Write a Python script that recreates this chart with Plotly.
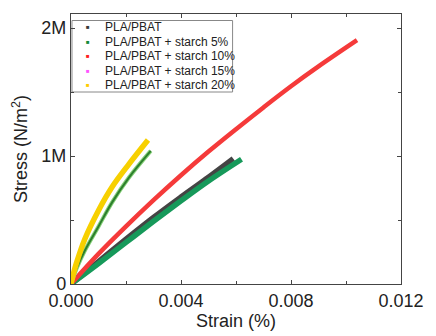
import plotly.graph_objects as go

# ---- data (strain, stress in N/m^2) ----
series_names = ["PLA/PBAT", "PLA/PBAT + starch 5%", "PLA/PBAT + starch 10%",
                "PLA/PBAT + starch 15%", "PLA/PBAT + starch 20%"]
legend_colors = ["#3a3a3a", "#138a3a", "#ff2020", "#ff55ff", "#ffcc00"]

pla_strain = [0, 0.0010, 0.0020, 0.0030, 0.0040, 0.0050, 0.0059]
pla_stress = [0, 0.175e6, 0.35e6, 0.52e6, 0.68e6, 0.835e6, 0.98e6]

s5_strain = [0, 0.0010, 0.0020, 0.0030, 0.0040, 0.0050, 0.0062]
s5_stress = [0, 0.16e6, 0.325e6, 0.49e6, 0.65e6, 0.805e6, 0.975e6]

s10_strain = [0, 0.0010, 0.0020, 0.0030, 0.0040, 0.0050, 0.0060,
              0.0070, 0.0080, 0.0090, 0.0104]
s10_stress = [0, 0.235e6, 0.45e6, 0.655e6, 0.85e6, 1.035e6, 1.21e6,
              1.38e6, 1.545e6, 1.70e6, 1.905e6]

s15_strain = [0, 0.0002, 0.0005, 0.0010, 0.0015, 0.0021, 0.0029]
s15_stress = [0, 0.12e6, 0.26e6, 0.45e6, 0.64e6, 0.83e6, 1.04e6]

s20_strain = [0, 0.0001, 0.0002, 0.0005, 0.0010, 0.0015, 0.0021, 0.0028]
s20_stress = [0, 0.09e6, 0.165e6, 0.35e6, 0.575e6, 0.76e6, 0.935e6, 1.125e6]

x_ticks = [0, 0.004, 0.008, 0.012]
y_ticks = [0, 1e6, 2e6]
y_ticktext = ["0", "1M", "2M"]

FONT = "Liberation Sans, Arial, sans-serif"

fig = go.Figure()
fig.add_trace(go.Scatter(x=pla_strain, y=pla_stress, mode="lines",
                         line=dict(color="#444444", width=5.5, shape="spline"), showlegend=False))
fig.add_trace(go.Scatter(x=s5_strain, y=s5_stress, mode="lines",
                         line=dict(color="#16995a", width=5.5, shape="spline"), showlegend=False))
fig.add_trace(go.Scatter(x=s10_strain, y=s10_stress, mode="lines",
                         line=dict(color="#f53a3a", width=4.5, shape="spline"), showlegend=False))
fig.add_trace(go.Scatter(x=s15_strain, y=s15_stress, mode="lines",
                         line=dict(color="#86d078", width=4, shape="spline"), showlegend=False))
fig.add_trace(go.Scatter(x=s15_strain, y=s15_stress, mode="lines",
                         line=dict(color="#2d7f2d", width=2, shape="spline"), showlegend=False))
fig.add_trace(go.Scatter(x=s20_strain, y=s20_stress, mode="lines",
                         line=dict(color="#f7d000", width=5.5, shape="spline"), showlegend=False))

# plot area geometry (pixels) for the hand-made legend
L, R, T, B = 71, 27, 14, 52
W, H = 436 - L - R, 336 - T - B

def px(x):
    return (x - L) / W

def py(y):
    return 1 - (y - T) / H

annotations = []
for i, (name, col) in enumerate(zip(series_names, legend_colors)):
    yy = 27 + 14.6 * i
    annotations.append(dict(x=px(88), y=py(yy), xref="paper", yref="paper",
                            text="■", showarrow=False, xanchor="center", yanchor="middle",
                            font=dict(size=6, color=col, family=FONT)))
    annotations.append(dict(x=px(104), y=py(yy), xref="paper", yref="paper",
                            text=name, showarrow=False, xanchor="left", yanchor="middle",
                            font=dict(size=12, color="#222222", family=FONT)))

shapes = [dict(type="rect", xref="paper", yref="paper",
               x0=px(72), x1=px(236.5), y0=py(92), y1=py(20.5),
               line=dict(color="#888888", width=1), fillcolor="white", layer="below")]

axis_common = dict(showgrid=False, zeroline=False, showline=True, linecolor="#444444",
                   linewidth=1.2, mirror="allticks", ticks="inside", ticklen=4,
                   tickcolor="#444444", tickfont=dict(size=18, color="#222222", family=FONT))

fig.update_layout(
    width=436, height=336,
    margin=dict(l=L, r=R, t=T, b=B),
    paper_bgcolor="white", plot_bgcolor="white",
    showlegend=False,
    annotations=annotations, shapes=shapes,
    xaxis=dict(range=[0, 0.012], tickvals=x_ticks, tickformat=".3f",
               minor=dict(dtick=0.002, ticks="inside", ticklen=3, tickcolor="#444444"),
               title=dict(text="Strain (%)", font=dict(size=18, color="#222222", family=FONT),
                          standoff=0),
               **axis_common),
    yaxis=dict(range=[0, 2.11e6], tickvals=y_ticks, ticktext=y_ticktext,
               minor=dict(tickvals=[0.5e6, 1.5e6], ticks="inside", ticklen=3, tickcolor="#444444"),
               title=dict(text="Stress (N/m<sup>2</sup>)", font=dict(size=18, color="#222222", family=FONT),
                          standoff=8),
               **axis_common),
)

fig.write_html("out.html")
